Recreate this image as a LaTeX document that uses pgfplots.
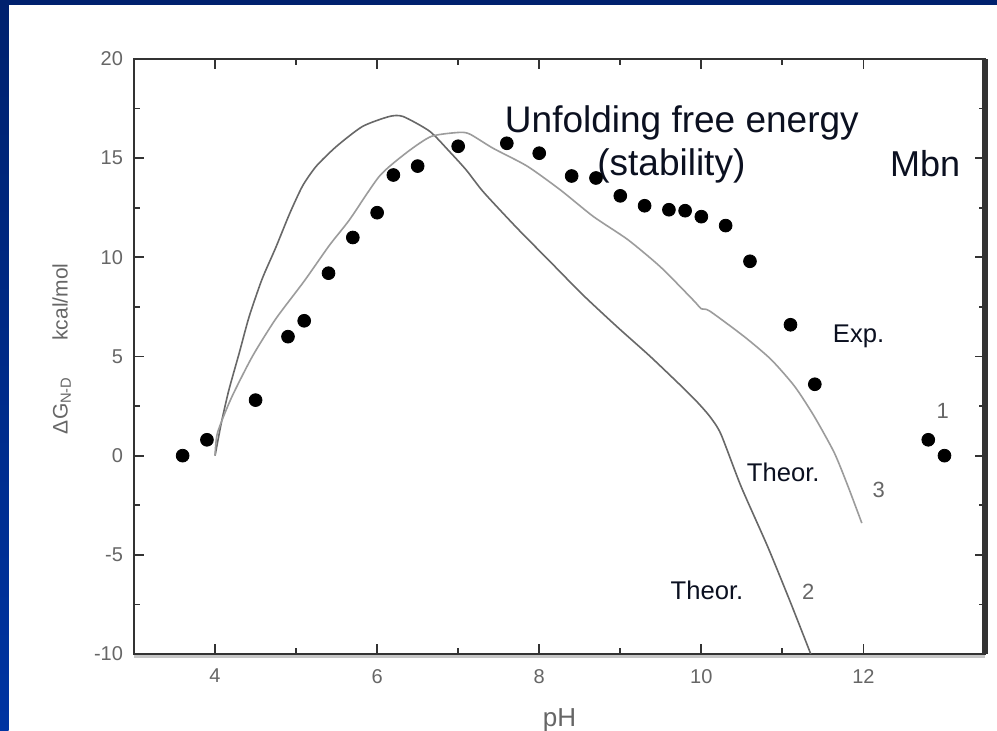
\documentclass[border=0pt]{standalone}
\usepackage{fontspec}
\setmainfont{Liberation Sans}
\usepackage{pgfplots}
\pgfplotsset{compat=1.18}

\definecolor{navytop}{HTML}{00216E}
\definecolor{bluebot}{HTML}{0034A2}
\definecolor{axisgray}{HTML}{333333}
\definecolor{lblgray}{HTML}{666666}
\definecolor{txtdark}{HTML}{0B1020}
\definecolor{theortwo}{HTML}{686868}
\definecolor{theorthree}{HTML}{9C9C9C}

\begin{document}
\begin{tikzpicture}
% slide background: blue frame on top and left
\fill[white] (0pt,0pt) rectangle (498.5pt,365.5pt);
\shade[top color=navytop, bottom color=bluebot] (0pt,0pt) rectangle (4.25pt,365.5pt);
\fill[navytop] (0pt,363pt) rectangle (498.5pt,365.5pt);
\useasboundingbox (0pt,0pt) rectangle (498.5pt,365.5pt);

\begin{axis}[
    at={(67pt,38.5pt)}, anchor=south west,
    width=425.5pt, height=297.5pt, scale only axis,
    xmin=3, xmax=13.5, ymin=-10, ymax=20,
    xtick={4,6,8,10,12}, minor x tick num=1,
    ytick={-10,-5,0,5,10,15,20}, minor y tick num=1,
    tick align=inside, tick pos=both,
    major tick length=5pt, minor tick length=3pt,
    axis line style={axisgray, line width=1.3pt},
    tick style={axisgray, line width=0.9pt},
    /pgf/number format/assume math mode=true,
    ticklabel style={font=\fontsize{10}{12}\selectfont, text=lblgray},
    xticklabel style={yshift=-4pt},
    yticklabel style={xshift=-2pt},
    xlabel={pH},
    xlabel style={at={(axis description cs:0.5,-0.111)}, anchor=center,
        font=\fontsize{13}{15}\selectfont, text=lblgray},
    ylabel={ΔG\textsubscript{N-D}\hspace{18pt}kcal/mol},
    ylabel style={at={(axis description cs:-0.085,0.513)}, anchor=center,
        font=\fontsize{10.5}{12}\selectfont, text=lblgray},
    clip=false,
]

% Theor. 2
\addplot[theortwo, line width=0.8pt, smooth, tension=0.4] coordinates {
 (4.00,0.0) (4.08,1.7) (4.17,3.3) (4.30,5.2) (4.42,7.0) (4.58,8.9)
 (4.75,10.5) (4.92,12.2) (5.08,13.6) (5.25,14.6) (5.50,15.6) (5.82,16.6)
 (6.15,17.1) (6.32,17.1) (6.65,16.35) (6.90,15.3) (7.10,14.4) (7.31,13.3)
 (7.72,11.5) (8.13,9.8) (8.54,8.1) (8.96,6.5) (9.37,5.0) (9.78,3.4)
 (9.95,2.7) (10.10,2.0) (10.24,1.1) (10.49,-1.55) (10.82,-4.6)
 (11.10,-7.4) (11.35,-10.0)
};

% Theor. 3
\addplot[theorthree, line width=0.8pt, smooth, tension=0.4] coordinates {
 (4.00,0.0) (4.03,1.15) (4.20,2.9) (4.46,5.0) (4.75,6.9) (5.10,8.8)
 (5.41,10.6) (5.66,11.9) (6.03,14.1) (6.37,15.3) (6.67,16.1) (7.02,16.3)
 (7.15,16.2) (7.43,15.5) (7.85,14.6) (8.26,13.4) (8.67,12.05) (9.09,10.9)
 (9.50,9.5) (9.91,7.8) (10.00,7.4) (10.10,7.3) (10.53,6.0) (10.86,4.85)
 (11.15,3.5) (11.39,2.0) (11.64,0.15) (11.81,-1.55) (11.98,-3.4)
};

% Exp. 1
\addplot[only marks, mark=*, mark size=3.2pt, black] coordinates {
 (3.6,0.0) (3.9,0.8) (4.5,2.8) (4.9,6.0) (5.1,6.8) (5.4,9.2) (5.7,11.0)
 (6.0,12.25) (6.2,14.15) (6.5,14.6) (7.0,15.6) (7.6,15.75) (8.0,15.25)
 (8.4,14.1) (8.7,14.0) (9.0,13.1) (9.3,12.6) (9.6,12.4) (9.8,12.35)
 (10.0,12.05) (10.3,11.6) (10.6,9.8) (11.1,6.6) (11.4,3.6) (12.8,0.8)
 (13.0,0.0)
};

% heavier right border and shadow under the bottom border
\draw[axisgray, line width=2.6pt] (rel axis cs:1,0) -- (rel axis cs:1,1);
\draw[gray!45, line width=1.3pt] ([yshift=-1.3pt]rel axis cs:0,0) -- ([yshift=-1.3pt]rel axis cs:1,0);

\node[anchor=base, font=\fontsize{18.5}{20}\selectfont, text=txtdark] at (axis cs:9.76,16.29) {Unfolding free energy};
\node[anchor=base, font=\fontsize{18.5}{20}\selectfont, text=txtdark] at (axis cs:9.63,14.12) {(stability)};
\node[anchor=base, font=\fontsize{18}{20}\selectfont, text=txtdark] at (axis cs:12.76,14.07) {Mbn};
\node[anchor=base, font=\fontsize{12.8}{14}\selectfont, text=txtdark] at (axis cs:11.94,5.7) {Exp.};
\node[anchor=base, font=\fontsize{12.8}{14}\selectfont, text=txtdark] at (axis cs:11.01,-1.31) {Theor.};
\node[anchor=base, font=\fontsize{12.8}{14}\selectfont, text=txtdark] at (axis cs:10.07,-7.26) {Theor.};
\node[anchor=base, font=\fontsize{11}{12}\selectfont, text=lblgray] at (axis cs:12.98,1.87) {1};
\node[anchor=base, font=\fontsize{11}{12}\selectfont, text=lblgray] at (axis cs:12.19,-2.12) {3};
\node[anchor=base, font=\fontsize{11}{12}\selectfont, text=lblgray] at (axis cs:11.32,-7.26) {2};
\end{axis}
\end{tikzpicture}
\end{document}
